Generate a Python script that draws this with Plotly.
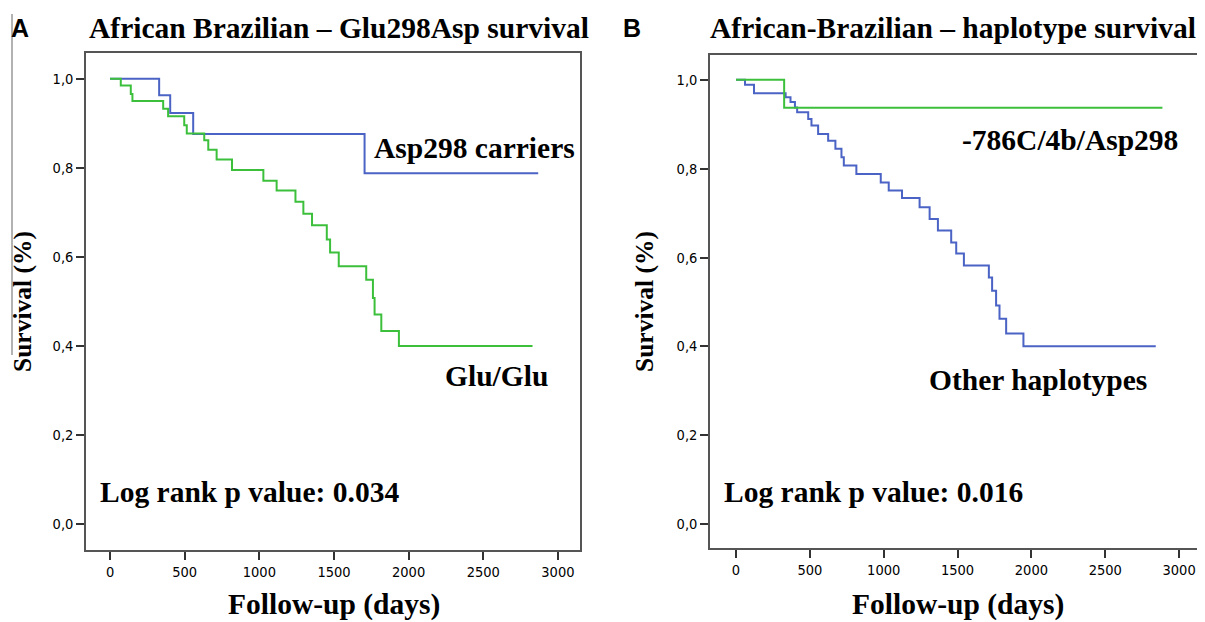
import plotly.graph_objects as go

# Panel A: Asp298 carriers (blue) and Glu/Glu (green)
a_carrier_days = [0, 329, 403, 557, 1705, 2868]
a_carrier_surv = [1.0, 0.963, 0.923, 0.876, 0.788, 0.788]
a_glu_days = [0, 72, 139, 150, 356, 389, 497, 514, 631, 658, 714, 817, 1027, 1116, 1242,
              1295, 1353, 1452, 1474, 1532, 1716, 1761, 1772, 1817, 1935, 2830]
a_glu_surv = [1.0, 0.985, 0.966, 0.950, 0.933, 0.916, 0.896, 0.877, 0.862, 0.841, 0.819, 0.795,
              0.771, 0.749, 0.724, 0.697, 0.671, 0.639, 0.610, 0.579, 0.549, 0.508, 0.471,
              0.434, 0.400, 0.400]

# Panel B: -786C/4b/Asp298 (green) and Other haplotypes (blue)
b_hap_days = [0, 326, 2887]
b_hap_surv = [1.0, 0.937, 0.937]
b_other_days = [0, 61, 122, 336, 369, 399, 414, 489, 511, 556, 624, 673, 714, 730, 815, 980,
                1034, 1124, 1243, 1311, 1367, 1457, 1491, 1543, 1712, 1734, 1761, 1784, 1829,
                1946, 2842]
b_other_surv = [1.0, 0.989, 0.970, 0.961, 0.950, 0.938, 0.927, 0.912, 0.897, 0.878, 0.863,
                0.845, 0.826, 0.807, 0.788, 0.769, 0.751, 0.734, 0.713, 0.687, 0.661, 0.634,
                0.609, 0.582, 0.555, 0.525, 0.492, 0.462, 0.429, 0.400, 0.400]

x_ticks = [0, 500, 1000, 1500, 2000, 2500, 3000]
y_ticks = [0.0, 0.2, 0.4, 0.6, 0.8, 1.0]
y_tick_text = ["0,0", "0,2", "0,4", "0,6", "0,8", "1,0"]

BLUE = "#4a63c4"
GREEN = "#3cc03c"
OFF = 8                      # page body margin
W, H = 1205 - OFF, 622 - OFF

fig = go.Figure()
fig.add_trace(go.Scatter(x=a_carrier_days, y=a_carrier_surv, mode="lines", line_shape="hv",
                         line=dict(color=BLUE, width=2), xaxis="x", yaxis="y", showlegend=False))
fig.add_trace(go.Scatter(x=a_glu_days, y=a_glu_surv, mode="lines", line_shape="hv",
                         line=dict(color=GREEN, width=2), xaxis="x", yaxis="y", showlegend=False))
fig.add_trace(go.Scatter(x=b_other_days, y=b_other_surv, mode="lines", line_shape="hv",
                         line=dict(color=BLUE, width=2), xaxis="x2", yaxis="y2", showlegend=False))
fig.add_trace(go.Scatter(x=b_hap_days, y=b_hap_surv, mode="lines", line_shape="hv",
                         line=dict(color=GREEN, width=2), xaxis="x2", yaxis="y2", showlegend=False))

tickfont = dict(family="Liberation Sans Narrow, DejaVu Sans Condensed, Liberation Sans",
                size=14.5, color="#000")
axis_common = dict(showline=True, linecolor="#555", linewidth=1.5, mirror=True,
                   showgrid=False, zeroline=False, ticks="outside", ticklen=8,
                   tickcolor="#333", tickwidth=1.5, tickfont=tickfont)

def px_x(p):
    return (p - OFF) / W

def px_y(p):
    return 1 - (p - OFF) / H

fig.update_layout(
    width=W, height=H, margin=dict(l=0, r=0, t=0, b=0),
    paper_bgcolor="white", plot_bgcolor="white",
    xaxis=dict(domain=[px_x(86), px_x(580)], range=[-161, 3148], tickvals=x_ticks,
               anchor="y", **axis_common),
    yaxis=dict(domain=[px_y(550), px_y(53)], range=[-0.058, 1.058], tickvals=y_ticks,
               ticktext=y_tick_text, anchor="x", **axis_common),
    xaxis2=dict(domain=[px_x(710), min(1.0, px_x(1202))], range=[-176, 3155], tickvals=x_ticks,
                anchor="y2", **axis_common),
    yaxis2=dict(domain=[px_y(548), px_y(55)], range=[-0.054, 1.056], tickvals=y_ticks,
                ticktext=y_tick_text, anchor="x2", **axis_common),
)

serif = "Liberation Serif, Times New Roman"

def ann(text, x, y, size, xanchor="center", family=serif, angle=0, bold=True):
    fig.add_annotation(text=f"<b>{text}</b>" if bold else text, x=px_x(x), y=px_y(y),
                       xref="paper", yref="paper", xanchor=xanchor, yanchor="middle",
                       showarrow=False, textangle=angle,
                       font=dict(family=family, size=size, color="black"))

ann("A", 9, 28, 25, xanchor="left", family="Liberation Sans, Arial")
ann("B", 621, 28, 25, xanchor="left", family="Liberation Sans, Arial")
ann("African Brazilian – Glu298Asp survival", 339, 28, 29.5)
ann("African-Brazilian – haplotype survival", 953, 28, 29.5)
ann("Asp298 carriers", 372, 148, 29.5, xanchor="left")
ann("Glu/Glu", 443, 376, 29.5, xanchor="left")
ann("Log rank p value: 0.034", 98, 492, 29.5, xanchor="left")
ann("-786C/4b/Asp298", 960, 140, 29.5, xanchor="left")
ann("Other haplotypes", 927, 380, 29.5, xanchor="left")
ann("Log rank p value: 0.016", 722, 492, 29.5, xanchor="left")
ann("Follow-up (days)", 334, 604, 29.5)
ann("Follow-up (days)", 958, 604, 29.5)
ann("Survival (%)", 22, 302, 25.5, angle=-90)
ann("Survival (%)", 644, 302, 25.5, angle=-90)

# thin panel-border artifact on the far left
fig.add_shape(type="line", xref="paper", yref="paper", x0=px_x(12), x1=px_x(12),
              y0=px_y(14), y1=px_y(355), line=dict(color="#666", width=1))

fig.write_html("out.html")
